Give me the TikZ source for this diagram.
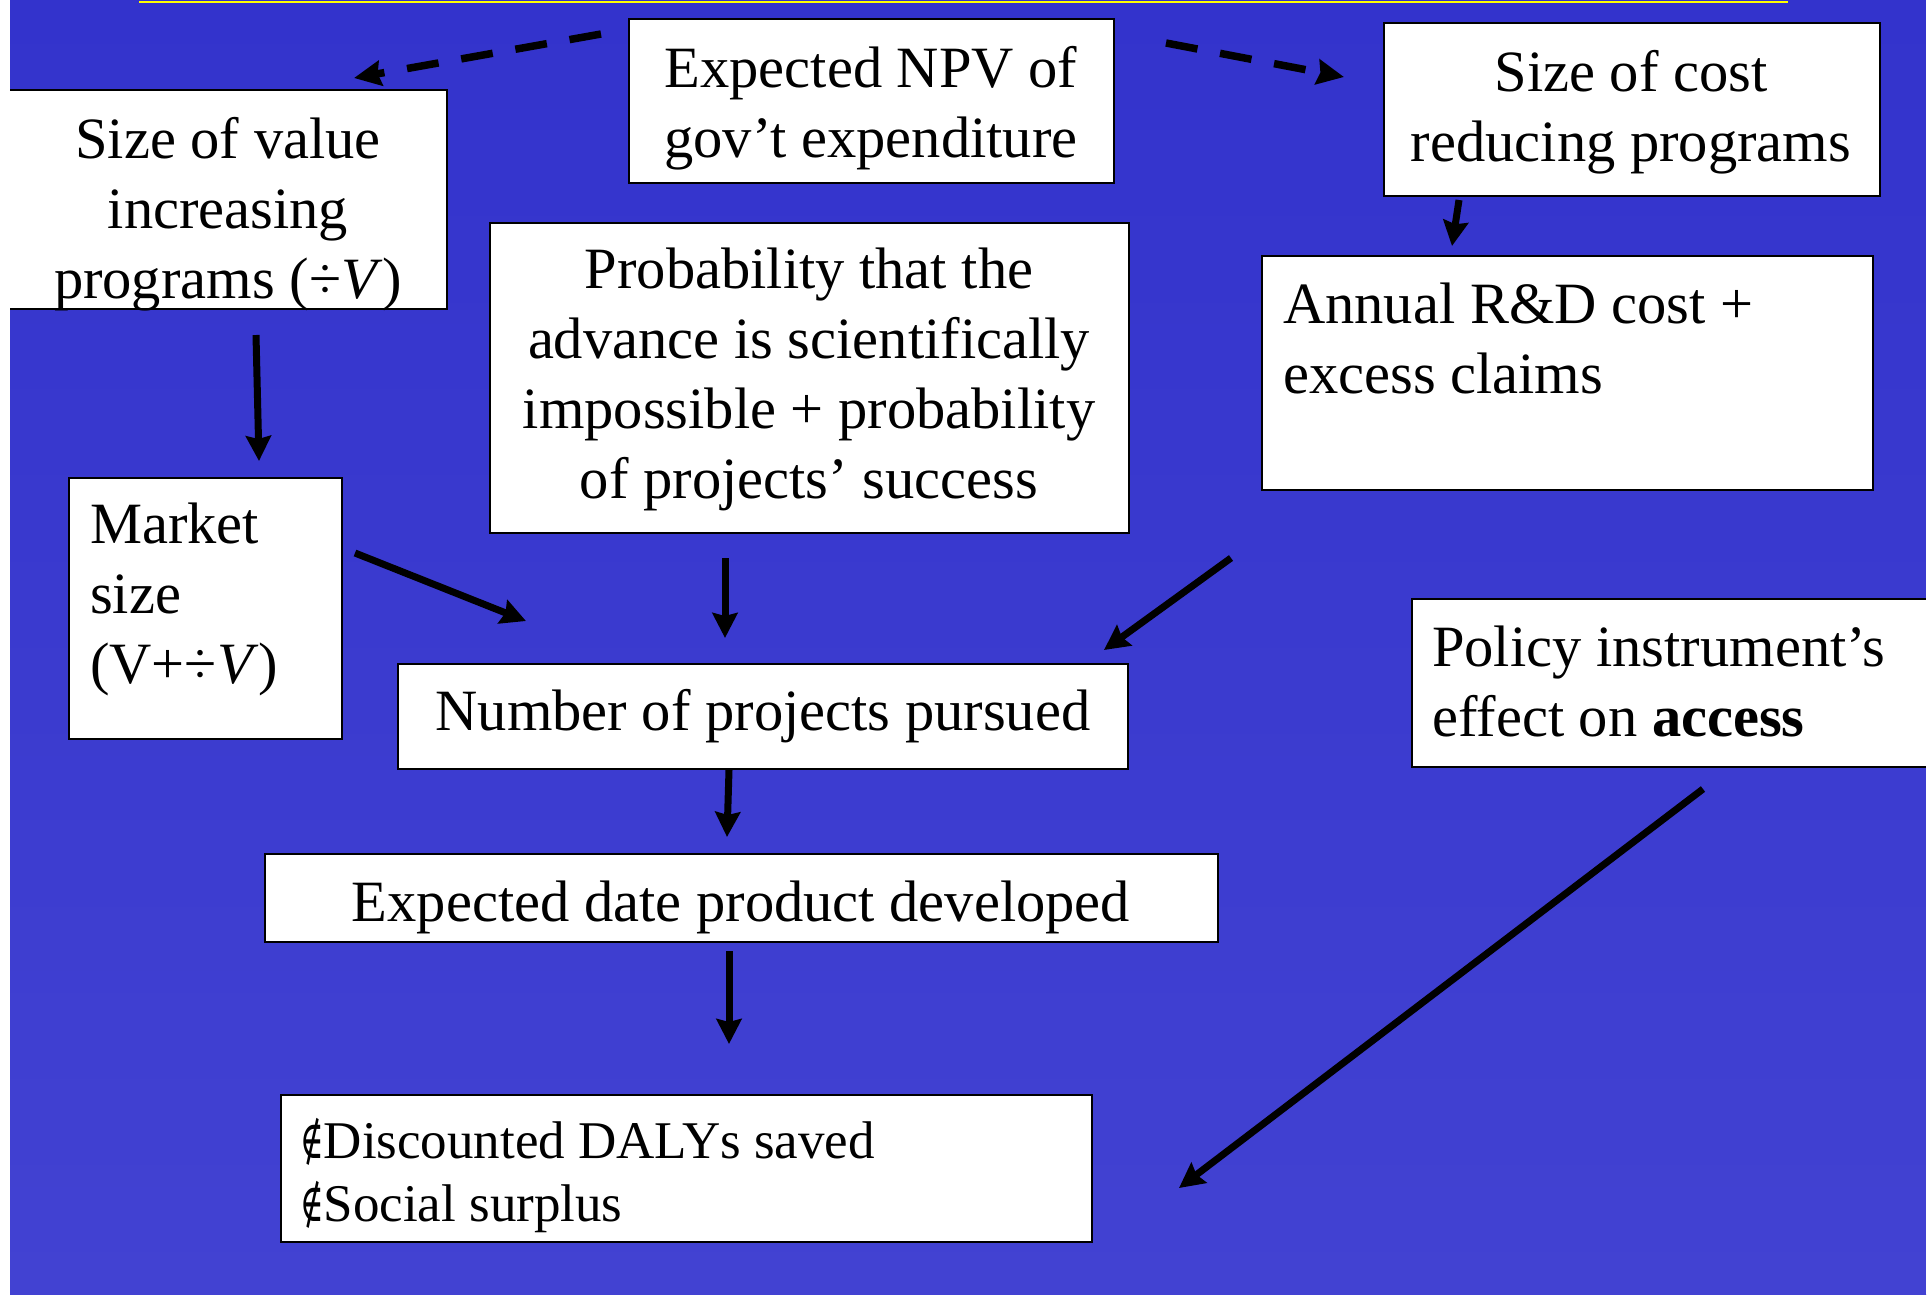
\documentclass[tikz,border=0pt]{standalone}
\usepackage{fontspec}
\usepackage{graphicx}
\setmainfont{Liberation Serif}
\newfontfamily\symfont{DejaVu Serif}
\usetikzlibrary{arrows.meta}
\definecolor{bgtop}{RGB}{51,51,204}
\definecolor{bgbot}{RGB}{66,66,210}
\definecolor{topline}{RGB}{255,255,0}
\newcommand{\notinmark}{\scalebox{0.6}[1]{\symfont ∉}}
\tikzset{
  box/.style={draw=black, fill=white, line width=2pt, inner sep=0pt, anchor=north west},
  txt/.style={inner sep=0pt, font=\fontsize{58.5}{70}\selectfont, text=black},
  smalltxt/.style={inner sep=0pt, font=\fontsize{53}{63}\selectfont, text=black},
  arr/.style={line width=7pt, -{Stealth[length=25pt,width=25pt,inset=3pt]}},
  darr/.style={line width=7.5pt, dash pattern=on 32pt off 23pt, -{Stealth[length=27pt,width=25pt,inset=3pt]}},
}
\begin{document}
\begin{tikzpicture}[x=1pt,y=-1pt]
\useasboundingbox (0,0) rectangle (1931,1294);
\fill[white] (0,0) rectangle (1931,1294);
\shade[top color=bgtop, bottom color=bgbot] (10,0) rectangle (1926,1294);
\fill[topline] (139,1) rectangle (1788,3);

% boxes
\node[box, minimum width=451pt, minimum height=219pt] (v) at (-5,89) {};
\node[box, minimum width=485pt, minimum height=164pt] (npv) at (628,18) {};
\node[box, minimum width=496pt, minimum height=173pt] (cost) at (1383,22) {};
\node[box, minimum width=639pt, minimum height=310pt] (prob) at (489,222) {};
\node[box, minimum width=611pt, minimum height=234pt] (ann) at (1261,255) {};
\node[box, minimum width=273pt, minimum height=261pt] (mk) at (68,477) {};
\node[box, minimum width=730pt, minimum height=105pt] (num) at (397,663) {};
\node[box, minimum width=530pt, minimum height=168pt] (pol) at (1411,598) {};
\node[box, minimum width=953pt, minimum height=88pt] (date) at (264,853) {};
\node[box, minimum width=811pt, minimum height=147pt] (daly) at (280,1094) {};

% texts
\node[txt, anchor=north, align=center] (vt) at (228,117) {Size of value\\increasing\\programs (÷\textit{V})};
\node[txt, anchor=north, align=center] (npvt) at (871,46) {Expected NPV of\\gov’t expenditure};
\node[txt, anchor=north, align=center] (costt) at (1631,50) {Size of cost\\reducing programs};
\node[txt, anchor=north, align=center] (probt) at (809,248) {Probability that the\\advance is scientifically\\impossible + probability\\of projects’ success};
\node[txt, anchor=north west, align=left] (annt) at (1283,283) {Annual R\&D cost +\\excess claims};
\node[txt, anchor=north west, align=left] (mkt) at (90,503) {Market\\size\\(V+÷\textit{V})};
\node[txt, anchor=base] (numt) at (763,730) {Number of projects pursued};
\node[txt, anchor=north west, align=left] (polt) at (1432,626) {Policy instrument’s\\effect on \textbf{access}};
\node[txt, anchor=base] (datet) at (741,921) {Expected date product developed};
\node[smalltxt, anchor=north west, align=left] (dalyt) at (300,1118) {\notinmark Discounted DALYs saved\\\notinmark Social surplus};

% connector end points
\coordinate (npv-l) at (601,34);
\coordinate (v-in) at (354,78);
\coordinate (npv-r) at (1166,43);
\coordinate (cost-in) at (1344,77);
\coordinate (cost-out) at (1459,200);
\coordinate (ann-in) at (1452,246);
\coordinate (v-out) at (256,335);
\coordinate (mk-in) at (259,461);
\coordinate (mk-out) at (355,553);
\coordinate (num-in1) at (526,621);
\coordinate (prob-out) at (725,558);
\coordinate (num-in2) at (725,638);
\coordinate (ann-out) at (1231,558);
\coordinate (num-in3) at (1104,650);
\coordinate (num-out) at (729,770);
\coordinate (date-in) at (727,837);
\coordinate (date-out) at (729,951);
\coordinate (daly-in) at (729,1044);
\coordinate (pol-out) at (1703,789);
\coordinate (daly-in2) at (1179,1188);

% connectors
\draw[darr] (npv-l) -- (v-in);
\draw[darr] (npv-r) -- (cost-in);
\draw[arr] (cost-out) -- (ann-in);
\draw[arr] (v-out) -- (mk-in);
\draw[arr] (mk-out) -- (num-in1);
\draw[arr] (prob-out) -- (num-in2);
\draw[arr] (ann-out) -- (num-in3);
\draw[arr] (num-out) -- (date-in);
\draw[arr] (date-out) -- (daly-in);
\draw[arr] (pol-out) -- (daly-in2);

% edge strips
\fill[white] (0,0) rectangle (10,1294);
\fill[white] (1926,0) rectangle (1931,1294);
\end{tikzpicture}
\end{document}
